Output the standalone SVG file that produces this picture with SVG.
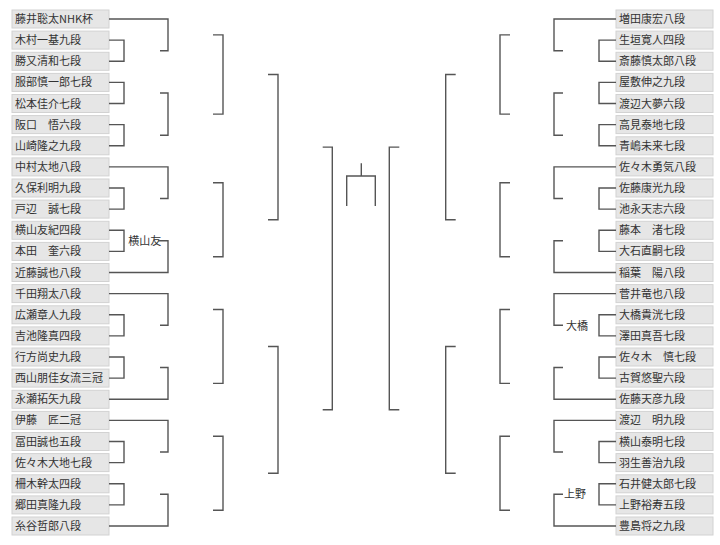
<svg xmlns="http://www.w3.org/2000/svg" width="720" height="545" viewBox="0 0 720 545">
<style>
.box{fill:#e6e6e6;stroke:#d2d2d2;stroke-width:1}
.t{font-family:"Noto Sans CJK JP","Noto Sans CJK SC",sans-serif;font-size:11px;fill:#333}
.c{fill:none;stroke:#555;stroke-width:1.4}
</style>
<rect width="720" height="545" fill="#fff"/>
<g id="left">
<g id="L0"><rect class="box" x="12" y="10" width="97" height="18"/><text class="t" x="15" y="23">藤井聡太NHK杯</text></g>
<g id="L1"><rect class="box" x="12" y="31.1" width="97" height="18"/><text class="t" x="15" y="44.1">木村一基九段</text></g>
<g id="L2"><rect class="box" x="12" y="52.3" width="97" height="18"/><text class="t" x="15" y="65.3">勝又清和七段</text></g>
<g id="L3"><rect class="box" x="12" y="73.4" width="97" height="18"/><text class="t" x="15" y="86.4">服部慎一郎七段</text></g>
<g id="L4"><rect class="box" x="12" y="94.5" width="97" height="18"/><text class="t" x="15" y="107.5">松本佳介七段</text></g>
<g id="L5"><rect class="box" x="12" y="115.6" width="97" height="18"/><text class="t" x="15" y="128.6">阪口　悟六段</text></g>
<g id="L6"><rect class="box" x="12" y="136.8" width="97" height="18"/><text class="t" x="15" y="149.8">山崎隆之九段</text></g>
<g id="L7"><rect class="box" x="12" y="157.9" width="97" height="18"/><text class="t" x="15" y="170.9">中村太地八段</text></g>
<g id="L8"><rect class="box" x="12" y="179" width="97" height="18"/><text class="t" x="15" y="192">久保利明九段</text></g>
<g id="L9"><rect class="box" x="12" y="200.1" width="97" height="18"/><text class="t" x="15" y="213.1">戸辺　誠七段</text></g>
<g id="L10"><rect class="box" x="12" y="221.3" width="97" height="18"/><text class="t" x="15" y="234.3">横山友紀四段</text></g>
<g id="L11"><rect class="box" x="12" y="242.4" width="97" height="18"/><text class="t" x="15" y="255.4">本田　奎六段</text></g>
<g id="L12"><rect class="box" x="12" y="263.5" width="97" height="18"/><text class="t" x="15" y="276.5">近藤誠也八段</text></g>
<g id="L13"><rect class="box" x="12" y="284.6" width="97" height="18"/><text class="t" x="15" y="297.6">千田翔太八段</text></g>
<g id="L14"><rect class="box" x="12" y="305.8" width="97" height="18"/><text class="t" x="15" y="318.8">広瀬章人九段</text></g>
<g id="L15"><rect class="box" x="12" y="326.9" width="97" height="18"/><text class="t" x="15" y="339.9">吉池隆真四段</text></g>
<g id="L16"><rect class="box" x="12" y="348" width="97" height="18"/><text class="t" x="15" y="361">行方尚史九段</text></g>
<g id="L17"><rect class="box" x="12" y="369.1" width="97" height="18"/><text class="t" x="15" y="382.1">西山朋佳女流三冠</text></g>
<g id="L18"><rect class="box" x="12" y="390.3" width="97" height="18"/><text class="t" x="15" y="403.3">永瀬拓矢九段</text></g>
<g id="L19"><rect class="box" x="12" y="411.4" width="97" height="18"/><text class="t" x="15" y="424.4">伊藤　匠二冠</text></g>
<g id="L20"><rect class="box" x="12" y="432.5" width="97" height="18"/><text class="t" x="15" y="445.5">冨田誠也五段</text></g>
<g id="L21"><rect class="box" x="12" y="453.6" width="97" height="18"/><text class="t" x="15" y="466.6">佐々木大地七段</text></g>
<g id="L22"><rect class="box" x="12" y="474.8" width="97" height="18"/><text class="t" x="15" y="487.8">柵木幹太四段</text></g>
<g id="L23"><rect class="box" x="12" y="495.9" width="97" height="18"/><text class="t" x="15" y="508.9">郷田真隆九段</text></g>
<g id="L24"><rect class="box" x="12" y="517" width="97" height="18"/><text class="t" x="15" y="530">糸谷哲郎八段</text></g>
</g>
<g id="right">
<g id="R0"><rect class="box" x="616" y="10" width="97" height="18"/><text class="t" x="619" y="23">増田康宏八段</text></g>
<g id="R1"><rect class="box" x="616" y="31.1" width="97" height="18"/><text class="t" x="619" y="44.1">生垣寛人四段</text></g>
<g id="R2"><rect class="box" x="616" y="52.3" width="97" height="18"/><text class="t" x="619" y="65.3">斎藤慎太郎八段</text></g>
<g id="R3"><rect class="box" x="616" y="73.4" width="97" height="18"/><text class="t" x="619" y="86.4">屋敷伸之九段</text></g>
<g id="R4"><rect class="box" x="616" y="94.5" width="97" height="18"/><text class="t" x="619" y="107.5">渡辺大夢六段</text></g>
<g id="R5"><rect class="box" x="616" y="115.6" width="97" height="18"/><text class="t" x="619" y="128.6">高見泰地七段</text></g>
<g id="R6"><rect class="box" x="616" y="136.8" width="97" height="18"/><text class="t" x="619" y="149.8">青嶋未来七段</text></g>
<g id="R7"><rect class="box" x="616" y="157.9" width="97" height="18"/><text class="t" x="619" y="170.9">佐々木勇気八段</text></g>
<g id="R8"><rect class="box" x="616" y="179" width="97" height="18"/><text class="t" x="619" y="192">佐藤康光九段</text></g>
<g id="R9"><rect class="box" x="616" y="200.1" width="97" height="18"/><text class="t" x="619" y="213.1">池永天志六段</text></g>
<g id="R10"><rect class="box" x="616" y="221.3" width="97" height="18"/><text class="t" x="619" y="234.3">藤本　渚七段</text></g>
<g id="R11"><rect class="box" x="616" y="242.4" width="97" height="18"/><text class="t" x="619" y="255.4">大石直嗣七段</text></g>
<g id="R12"><rect class="box" x="616" y="263.5" width="97" height="18"/><text class="t" x="619" y="276.5">稲葉　陽八段</text></g>
<g id="R13"><rect class="box" x="616" y="284.6" width="97" height="18"/><text class="t" x="619" y="297.6">菅井竜也八段</text></g>
<g id="R14"><rect class="box" x="616" y="305.8" width="97" height="18"/><text class="t" x="619" y="318.8">大橋貴洸七段</text></g>
<g id="R15"><rect class="box" x="616" y="326.9" width="97" height="18"/><text class="t" x="619" y="339.9">澤田真吾七段</text></g>
<g id="R16"><rect class="box" x="616" y="348" width="97" height="18"/><text class="t" x="619" y="361">佐々木　慎七段</text></g>
<g id="R17"><rect class="box" x="616" y="369.1" width="97" height="18"/><text class="t" x="619" y="382.1">古賀悠聖六段</text></g>
<g id="R18"><rect class="box" x="616" y="390.3" width="97" height="18"/><text class="t" x="619" y="403.3">佐藤天彦九段</text></g>
<g id="R19"><rect class="box" x="616" y="411.4" width="97" height="18"/><text class="t" x="619" y="424.4">渡辺　明九段</text></g>
<g id="R20"><rect class="box" x="616" y="432.5" width="97" height="18"/><text class="t" x="619" y="445.5">横山泰明七段</text></g>
<g id="R21"><rect class="box" x="616" y="453.6" width="97" height="18"/><text class="t" x="619" y="466.6">羽生善治九段</text></g>
<g id="R22"><rect class="box" x="616" y="474.8" width="97" height="18"/><text class="t" x="619" y="487.8">石井健太郎七段</text></g>
<g id="R23"><rect class="box" x="616" y="495.9" width="97" height="18"/><text class="t" x="619" y="508.9">上野裕寿五段</text></g>
<g id="R24"><rect class="box" x="616" y="517" width="97" height="18"/><text class="t" x="619" y="530">豊島将之九段</text></g>
</g>
<g id="labels">
<text class="t" x="128.3" y="244.5">横山友</text>
<text class="t" x="566" y="329.5">大橋</text>
<text class="t" x="564" y="498">上野</text>
</g>
<g id="connectors" class="c">
<path d="M109 40.1H124V61.3H109M109 82.4H124V103.5H109M109 124.6H124V145.8H109M109 188H124V209.1H109M109 230.3H124V251.4H109M109 314.8H124V335.9H109M109 357H124V378.1H109M109 441.5H124V462.6H109M109 483.8H124V504.9H109"/>
<path d="M109 19H168V50.7H160M160 93H168V135.2H160M109 166.9H168V198.5H160M158 240.8H168V272.5H109M109 293.6H168V325.3H160M160 367.5H168V399.3H109M109 420.4H168V452H160M160 494.3H168V526H109"/>
<path d="M213 34.9H223V114.1H213M213 182.7H223V256.7H213M213 309.5H223V383.4H213M213 436.2H223V510.2H213"/>
<path d="M268 74.5H278V219.7H268M268 346.5H278V473.2H268"/>
<path d="M322.7 147.1H332.3V409.8H322.7"/>
<path d="M361.3 163.3V176M346.7 206V176H375.3V206"/>
<path d="M399.3 147.1H389.3V409.8H399.3"/>
<path d="M455.7 74.5H445.7V219.7H455.7M455.7 346.5H445.7V473.2H455.7"/>
<path d="M510 34.9H500V114.1H510M510 182.7H500V256.7H510M510 309.5H500V383.4H510M510 436.2H500V510.2H510"/>
<path d="M616 19H554V50.7H563M563 93H554V135.2H563M616 166.9H554V198.5H563M563 240.8H554V272.5H616M616 293.6H554V325.3H563M563 367.5H554V399.3H616M616 420.4H554V452H563M563 494.3H554V526H616"/>
<path d="M616 40.1H599V61.3H616M616 82.4H599V103.5H616M616 124.6H599V145.8H616M616 188H599V209.1H616M616 230.3H599V251.4H616M616 314.8H599V335.9H616M616 357H599V378.1H616M616 441.5H599V462.6H616M616 483.8H599V504.9H616"/>
</g>
</svg>
